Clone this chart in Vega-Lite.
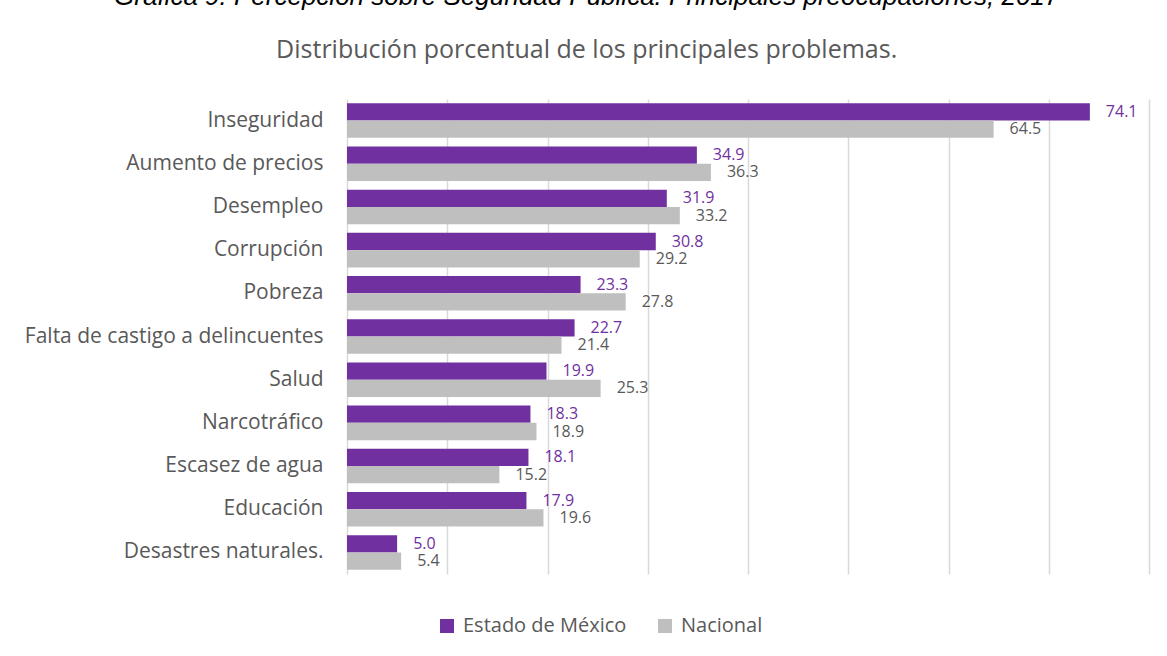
{
  "$schema": "https://vega.github.io/schema/vega-lite/v6.json",
  "width": 802,
  "height": 475,
  "autosize": {"type": "none"},
  "padding": {"left": 347, "top": 99, "right": 18, "bottom": 82},
  "background": "white",
  "config": {"view": {"stroke": null}},
  "title": {
    "text": "Gráfica 9. Percepción sobre Seguridad Pública. Principales preocupaciones, 2017",
    "subtitle": "Distribución porcentual de los principales problemas.",
    "anchor": "middle",
    "frame": "bounds",
    "font": "Liberation Sans",
    "fontStyle": "italic",
    "fontWeight": "normal",
    "fontSize": 26,
    "color": "#000000",
    "subtitleFont": "Open Sans",
    "subtitleFontSize": 25,
    "subtitleColor": "#595959",
    "subtitlePadding": 28,
    "offset": 36
  },
  "data": {
    "values": [
      {"problema": "Inseguridad", "serie": "Estado de México", "valor": 74.1},
      {"problema": "Aumento de precios", "serie": "Estado de México", "valor": 34.9},
      {"problema": "Desempleo", "serie": "Estado de México", "valor": 31.9},
      {"problema": "Corrupción", "serie": "Estado de México", "valor": 30.8},
      {"problema": "Pobreza", "serie": "Estado de México", "valor": 23.3},
      {"problema": "Falta de castigo a delincuentes", "serie": "Estado de México", "valor": 22.7},
      {"problema": "Salud", "serie": "Estado de México", "valor": 19.9},
      {"problema": "Narcotráfico", "serie": "Estado de México", "valor": 18.3},
      {"problema": "Escasez de agua", "serie": "Estado de México", "valor": 18.1},
      {"problema": "Educación", "serie": "Estado de México", "valor": 17.9},
      {"problema": "Desastres naturales.", "serie": "Estado de México", "valor": 5.0},
      {"problema": "Inseguridad", "serie": "Nacional", "valor": 64.5},
      {"problema": "Aumento de precios", "serie": "Nacional", "valor": 36.3},
      {"problema": "Desempleo", "serie": "Nacional", "valor": 33.2},
      {"problema": "Corrupción", "serie": "Nacional", "valor": 29.2},
      {"problema": "Pobreza", "serie": "Nacional", "valor": 27.8},
      {"problema": "Falta de castigo a delincuentes", "serie": "Nacional", "valor": 21.4},
      {"problema": "Salud", "serie": "Nacional", "valor": 25.3},
      {"problema": "Narcotráfico", "serie": "Nacional", "valor": 18.9},
      {"problema": "Escasez de agua", "serie": "Nacional", "valor": 15.2},
      {"problema": "Educación", "serie": "Nacional", "valor": 19.6},
      {"problema": "Desastres naturales.", "serie": "Nacional", "valor": 5.4}
    ]
  },
  "encoding": {
    "y": {
      "field": "problema",
      "type": "nominal",
      "sort": ["Inseguridad", "Aumento de precios", "Desempleo", "Corrupción", "Pobreza", "Falta de castigo a delincuentes", "Salud", "Narcotráfico", "Escasez de agua", "Educación", "Desastres naturales."],
      "scale": {"paddingInner": 0.2, "paddingOuter": 0.1},
      "title": null,
      "axis": {
        "ticks": false,
        "domain": false,
        "labelFont": "Open Sans",
        "labelFontSize": 21,
        "labelColor": "#595959",
        "labelPadding": 24,
        "labelLimit": 400
      }
    },
    "yOffset": {
      "field": "serie",
      "type": "nominal",
      "sort": ["Estado de México", "Nacional"],
      "scale": {"paddingInner": 0, "paddingOuter": 0}
    },
    "x": {
      "field": "valor",
      "type": "quantitative",
      "scale": {"domain": [0, 80], "nice": false},
      "title": null,
      "axis": {
        "values": [0, 10, 20, 30, 40, 50, 60, 70, 80],
        "labels": false,
        "ticks": false,
        "domain": false,
        "grid": true,
        "gridColor": "#D9D9D9",
        "gridWidth": 1.5
      }
    }
  },
  "layer": [
    {
      "mark": {"type": "bar"},
      "encoding": {
        "color": {
          "field": "serie",
          "type": "nominal",
          "scale": {"domain": ["Estado de México", "Nacional"], "range": ["#7030A0", "#BFBFBF"]},
          "legend": {
            "orient": "none",
            "legendX": 90,
            "legendY": 517,
            "direction": "horizontal",
            "title": null,
            "symbolType": "square",
            "symbolSize": 196,
            "symbolStrokeWidth": 0,
            "labelFont": "Open Sans",
            "labelFontSize": 20,
            "labelColor": "#595959",
            "labelLimit": 400,
            "labelOffset": 6,
            "columnPadding": 28,
            "padding": 0
          }
        }
      }
    },
    {
      "mark": {"type": "text", "align": "left", "baseline": "middle", "dx": 16, "font": "Open Sans", "fontSize": 16},
      "encoding": {
        "text": {"field": "valor", "type": "quantitative", "format": ".1f"},
        "color": {
          "condition": {"test": "datum.serie === 'Estado de México'", "value": "#7030A0"},
          "value": "#595959"
        }
      }
    }
  ]
}
